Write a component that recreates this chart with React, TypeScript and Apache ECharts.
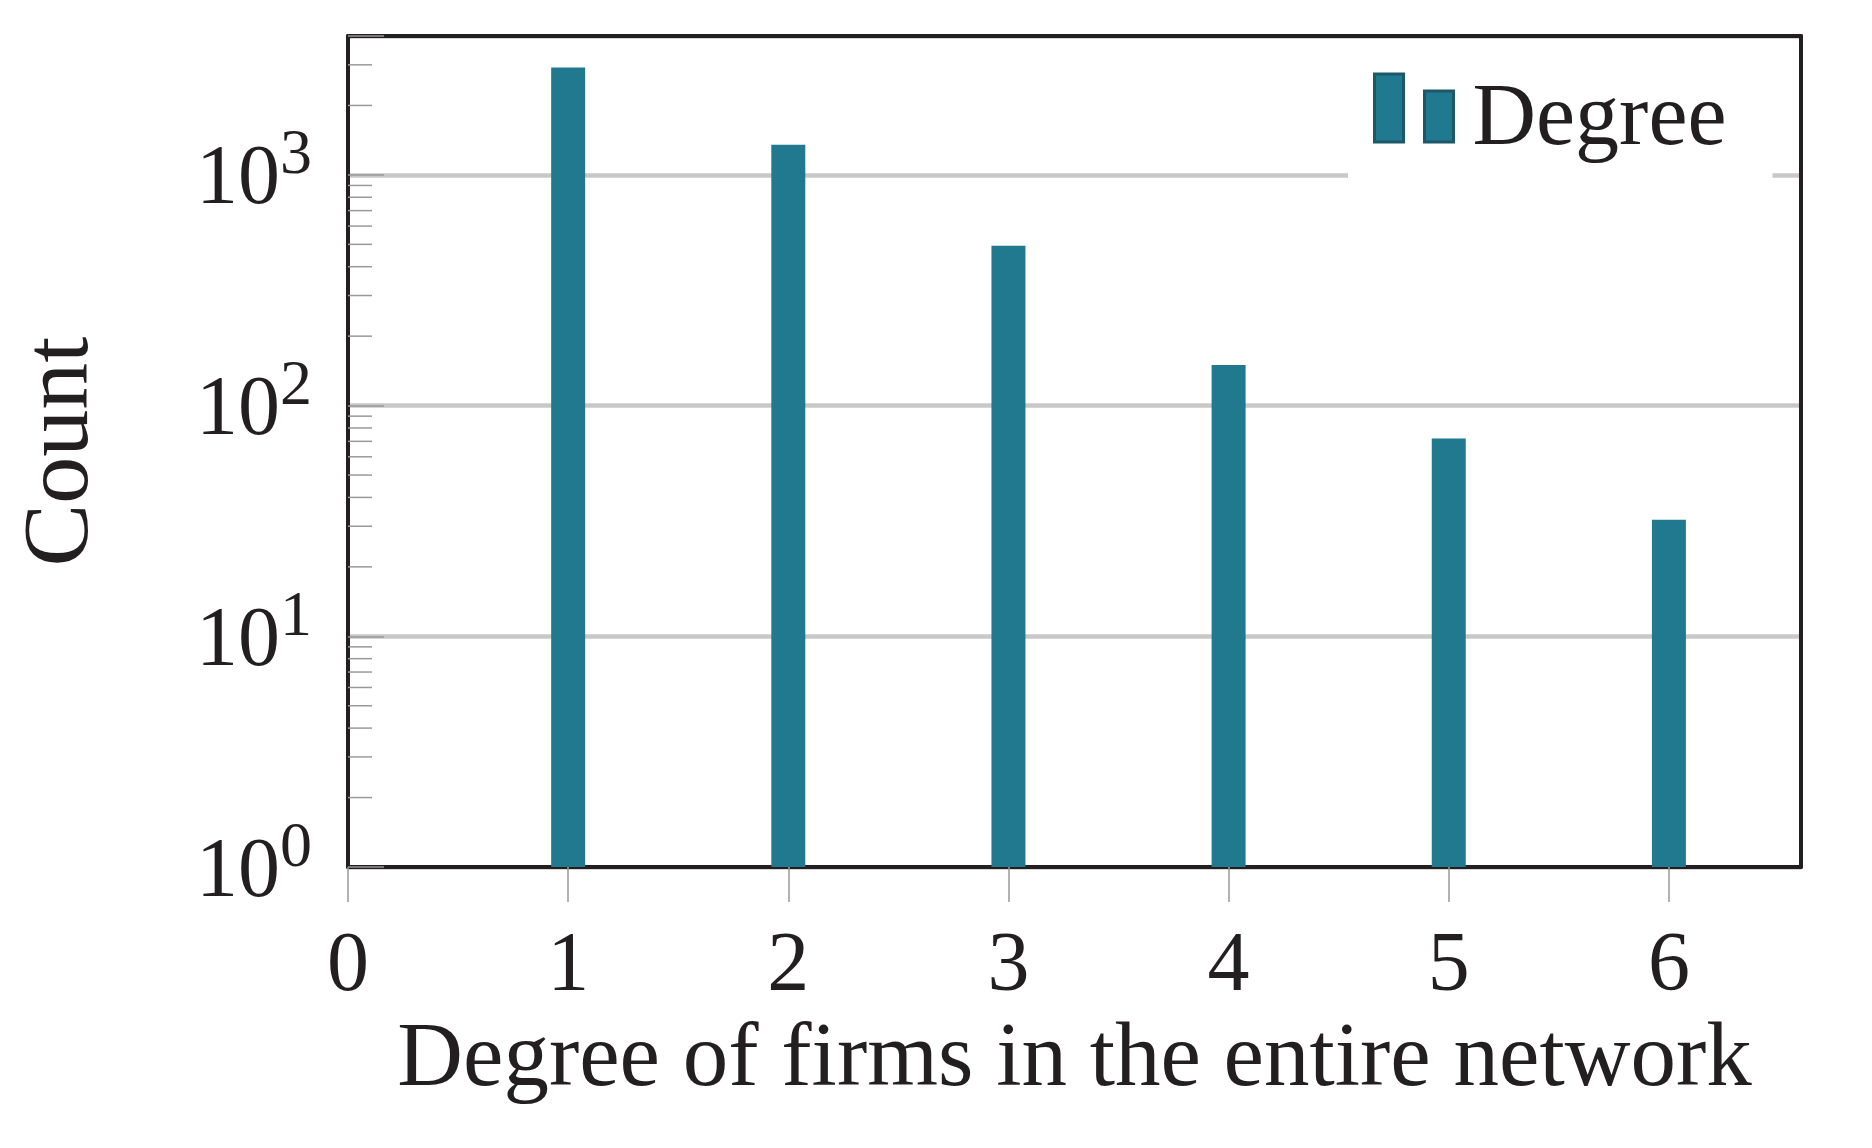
import React, { useEffect, useRef } from "react";
import * as echarts from "echarts";

const degrees = [1, 2, 3, 4, 5, 6];
const counts = [2920, 1350, 493, 150, 72, 32];
const xTickValues = [0, 1, 2, 3, 4, 5, 6];
const yMajorValues = [1, 10, 100, 1000];
const yMinorMultipliers = [2, 3, 4, 5, 6, 7, 8, 9];
const seriesName = "Degree";
const xTitle = "Degree of firms in the entire network";
const yTitle = "Count";

const FONT = "'Liberation Serif', 'Times New Roman', serif";
const TEXT = "#231f20";
const BAR = "#21798f";

export default function App() {
  const ref = useRef<HTMLDivElement>(null);
  useEffect(() => {
    if (!ref.current) return;
    const chart = echarts.init(ref.current, null, { renderer: "svg" });
    const yMax = 4000;
    const minorTicks: number[][] = [];
    yMajorValues.forEach((d) => {
      yMinorMultipliers.forEach((m) => {
        const v = d * m;
        if (v < yMax) minorTicks.push([0, v]);
      });
    });
    const option: any = {
      animation: false,
      backgroundColor: "#fff",
      textStyle: { fontFamily: FONT, color: TEXT },
      grid: { left: 346, right: 71, top: 36, bottom: 281, containLabel: false },
      legend: {
        data: [seriesName],
        left: 1348,
        top: 56,
        padding: [14, 46, 30, 25],
        backgroundColor: "#fff",
        itemWidth: 79,
        itemHeight: 68,
        icon: "path://M0,0H29V68H0Z M50,17H79V68H50Z",
        itemStyle: { color: BAR, borderColor: "#1e5868", borderWidth: 3 },
        formatter: (name: string) => "{t|" + name + "}",
        textStyle: {
          fontFamily: FONT,
          fontSize: 88,
          color: TEXT,
          rich: {
            t: { fontFamily: FONT, fontSize: 88, color: TEXT, padding: [12, 0, 0, 14] },
          },
        },
      },
      xAxis: [
        {
          type: "value",
          min: 0,
          max: 6.6,
          interval: 1,
          position: "bottom",
          splitLine: { show: false },
          axisLine: { show: true, onZero: false, lineStyle: { color: TEXT, width: 4 } },
          axisTick: {
            show: true,
            inside: false,
            length: 35,
            customValues: xTickValues,
            lineStyle: { color: "#999", width: 1.5 },
          },
          axisLabel: {
            customValues: xTickValues,
            fontFamily: FONT,
            fontSize: 84,
            color: TEXT,
            margin: 52,
          },
          name: xTitle,
          nameLocation: "middle",
          nameGap: 142,
          nameTextStyle: { fontFamily: FONT, fontSize: 91, color: TEXT },
        },
        {
          type: "value",
          min: 0,
          max: 6.6,
          position: "top",
          axisLine: { show: true, onZero: false, lineStyle: { color: TEXT, width: 4 } },
          axisTick: { show: false },
          axisLabel: { show: false },
          splitLine: { show: false },
        },
      ],
      yAxis: [
        {
          type: "log",
          logBase: 10,
          min: 1,
          max: yMax,
          interval: 1,
          position: "left",
          axisLine: { show: true, onZero: false, lineStyle: { color: TEXT, width: 4 } },
          axisTick: { show: true, inside: true, length: 36, lineStyle: { color: "#999", width: 1.5 } },
          splitLine: { show: true, lineStyle: { color: "#c8c8c8", width: 4.5 } },
          axisLabel: {
            margin: 36,
            formatter: (v: number) => {
              const e = Math.log10(v);
              if (Math.abs(e - Math.round(e)) > 1e-6) return "";
              return "{b|10}{s|" + Math.round(e) + "}";
            },
            rich: {
              b: { fontFamily: FONT, fontSize: 84, lineHeight: 84, color: TEXT, verticalAlign: "bottom" },
              s: {
                fontFamily: FONT,
                fontSize: 64,
                lineHeight: 64,
                color: TEXT,
                verticalAlign: "bottom",
                padding: [0, 0, 33, 0],
              },
            },
          },
          name: yTitle,
          nameLocation: "middle",
          nameGap: 246,
          nameTextStyle: { fontFamily: FONT, fontSize: 94, color: TEXT },
        },
        {
          type: "log",
          logBase: 10,
          min: 1,
          max: yMax,
          position: "right",
          axisLine: { show: true, onZero: false, lineStyle: { color: TEXT, width: 4 } },
          axisTick: { show: false },
          axisLabel: { show: false },
          splitLine: { show: false },
        },
      ],
      series: [
        {
          name: seriesName,
          type: "bar",
          xAxisIndex: 0,
          yAxisIndex: 0,
          barWidth: 34,
          itemStyle: { color: BAR },
          data: degrees.map((d, i) => [d, counts[i]]),
          z: 2,
        },
        {
          name: "minorTicks",
          type: "custom",
          xAxisIndex: 0,
          yAxisIndex: 0,
          silent: true,
          z: 3,
          data: minorTicks,
          renderItem: (params: any, api: any) => {
            const p = api.coord([api.value(0), api.value(1)]);
            return {
              type: "line",
              shape: { x1: p[0], y1: p[1], x2: p[0] + 24, y2: p[1] },
              style: { stroke: "#999", lineWidth: 1.5 },
            };
          },
        },
      ],
    };
    chart.setOption(option);
    return () => chart.dispose();
  }, []);
  return (
    <div
      ref={ref}
      style={{ position: "absolute", left: 0, top: 0, width: 1872, height: 1148, background: "#fff" }}
    />
  );
}
